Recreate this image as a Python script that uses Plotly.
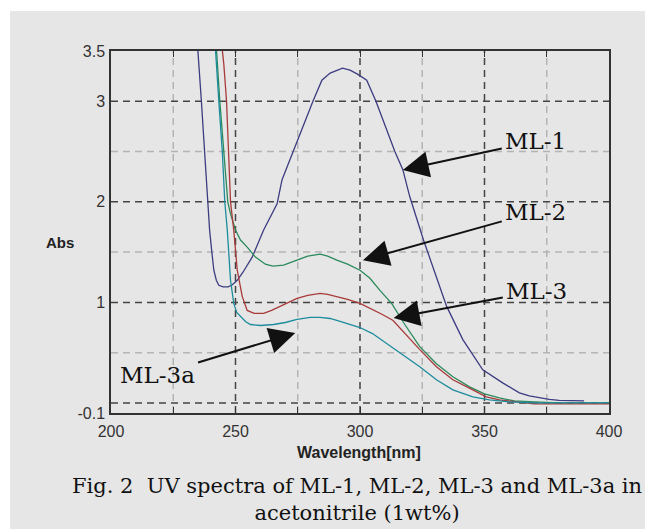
import plotly.graph_objects as go

# ---------------- data ----------------
ml1_x = [234.2, 234.9, 236.3, 237.6, 238.9, 239.6, 240.5, 241.3, 242.3, 243.3, 245.0, 247.0, 248.5,
         250.7, 253.0, 256.7, 261.3, 266.7, 268.7, 273.1, 281.1, 284.7, 288.0, 293.0, 296.0, 299.0,
         302.7, 306.4, 314.0, 317.2, 320.0, 325.5, 334.8, 341.3, 349.3, 357.3, 364.0, 368.0, 372.0,
         376.0, 380.0, 390.0]
ml1_y = [3.6, 3.5, 3.0, 2.5, 2.0, 1.72, 1.5, 1.32, 1.22, 1.17, 1.155, 1.155, 1.17,
         1.22, 1.30, 1.45, 1.72, 1.98, 2.22, 2.5, 3.0, 3.21, 3.28, 3.33, 3.31, 3.27,
         3.21, 3.0, 2.5, 2.32, 2.05, 1.62, 0.96, 0.63, 0.33, 0.20, 0.10, 0.07, 0.05,
         0.035, 0.025, 0.02]

ml2_x = [241.8, 242.4, 243.7, 245.3, 246.9, 248.0, 250.0, 252.0, 254.7, 258.0, 262.0, 265.0, 269.3,
         274.7, 279.0, 284.0, 287.0, 290.7, 295.0, 300.0, 304.0, 308.0, 312.7, 318.0, 324.0, 330.7,
         337.3, 344.0, 350.0, 356.0, 362.0, 370.0, 380.0, 400.0]
ml2_y = [3.6, 3.5, 3.0, 2.5, 2.0, 1.88, 1.72, 1.62, 1.55, 1.45, 1.38, 1.36, 1.37,
         1.42, 1.46, 1.48, 1.46, 1.42, 1.38, 1.32, 1.24, 1.12, 0.99, 0.78, 0.56, 0.39,
         0.26, 0.16, 0.09, 0.05, 0.02, 0.01, 0.0, 0.0]

ml3_x = [244.3, 244.7, 245.3, 246.4, 247.2, 248.0, 249.3, 250.7, 252.7, 254.7, 257.5, 261.3, 264.5,
         268.0, 274.7, 279.0, 284.0, 287.0, 290.7, 295.0, 300.0, 305.0, 309.0, 313.3, 318.0, 324.0,
         330.7, 337.3, 345.3, 350.7, 356.0, 362.0, 370.0, 400.0]
ml3_y = [3.6, 3.5, 3.37, 3.0, 2.5, 2.0, 1.72, 1.32, 1.06, 0.92, 0.89, 0.89, 0.92,
         0.96, 1.04, 1.07, 1.09, 1.08, 1.06, 1.03, 0.99, 0.93, 0.88, 0.82, 0.69, 0.53,
         0.36, 0.23, 0.13, 0.06, 0.03, 0.01, -0.01, -0.01]

ml3a_x = [241.3, 242.0, 243.3, 244.7, 245.7, 246.7, 248.0, 249.3, 250.5, 252.0, 254.0, 256.0, 260.0,
          265.3, 270.0, 274.7, 280.0, 284.0, 288.0, 292.0, 296.0, 300.0, 305.0, 310.7, 314.7, 319.0,
          324.0, 330.7, 337.3, 345.3, 352.0, 360.0, 370.0, 400.0]
ml3a_y = [3.6, 3.5, 3.0, 2.5, 2.0, 1.72, 1.22, 0.99, 0.90, 0.86, 0.81, 0.78, 0.77,
          0.78, 0.80, 0.83, 0.85, 0.85, 0.84, 0.81, 0.78, 0.75, 0.69, 0.59, 0.52, 0.45,
          0.36, 0.23, 0.13, 0.06, 0.03, 0.01, 0.0, 0.0]

x_tick_vals = [200, 250, 300, 350, 400]
x_tick_text = ["200", "250", "300", "350", "400"]
y_tick_vals = [-0.1, 1, 2, 3, 3.5]
y_tick_text = ["-0.1", "1", "2", "3", "3.5"]
major_x_grid = [250, 300, 350]
minor_x_grid = [225, 275, 325, 375]
major_y_grid = [0, 1, 2, 3]
minor_y_grid = [0.5, 1.5, 2.5]

# label: (text, arrow head x, head y, text x, text y)
labels = [
    ("ML-1", 317.2, 2.317, 370.6, 2.605),
    ("ML-2", 301.2, 1.42, 370.6, 1.90),
    ("ML-3", 313.5, 0.845, 371.0, 1.113),
    ("ML-3a", 274.0, 0.696, 218.5, 0.278),
]

caption = "Fig. 2  UV spectra of ML-1, ML-2, ML-3 and ML-3a in<br>acetonitrile (1wt%)"

# ---------------- figure ----------------
BG = "#e6e6e6"
fig = go.Figure()
series = [
    (ml1_x, ml1_y, "#3c3c82", "ML-1"),
    (ml2_x, ml2_y, "#2b8a5c", "ML-2"),
    (ml3_x, ml3_y, "#a83a3a", "ML-3"),
    (ml3a_x, ml3a_y, "#1c8c9c", "ML-3a"),
]
for xs, ys, col, nm in series:
    fig.add_trace(go.Scatter(x=xs, y=ys, mode="lines", name=nm,
                             line=dict(color=col, width=1.3), showlegend=False))

L, R, T, B = 111, 36, 51, 116
W, H = 645, 529
pw, ph = W - L - R, H - T - B


def px_to_paper_x(px):
    return (px - L) / pw


def px_to_paper_y(py):
    return (H - B - py) / ph


shapes = []
# gray background with white strip at top/left
shapes.append(dict(type="rect", xref="paper", yref="paper",
                   x0=px_to_paper_x(10), x1=px_to_paper_x(W + 5),
                   y0=px_to_paper_y(H + 5), y1=px_to_paper_y(11),
                   fillcolor=BG, line=dict(width=0), layer="below"))
for v in minor_x_grid:
    shapes.append(dict(type="line", xref="x", yref="paper", x0=v, x1=v, y0=0, y1=1,
                       line=dict(color="#b4b4b4", width=1.5, dash="7px,5px"), layer="below"))
for v in minor_y_grid:
    shapes.append(dict(type="line", xref="paper", yref="y", x0=0, x1=1, y0=v, y1=v,
                       line=dict(color="#b4b4b4", width=1.5, dash="7px,5px"), layer="below"))
for v in major_x_grid:
    shapes.append(dict(type="line", xref="x", yref="paper", x0=v, x1=v, y0=0, y1=1,
                       line=dict(color="#444444", width=1.5, dash="7px,5px"), layer="below"))
for v in major_y_grid:
    shapes.append(dict(type="line", xref="paper", yref="y", x0=0, x1=1, y0=v, y1=v,
                       line=dict(color="#444444", width=1.5, dash="7px,5px"), layer="below"))

annotations = []
for txt, hx, hy, tx, ty in labels:
    annotations.append(dict(x=hx, y=hy, xref="x", yref="y", ax=tx, ay=ty, axref="x", ayref="y",
                            text=txt, showarrow=True, arrowhead=2, arrowsize=2.6, arrowwidth=2,
                            arrowcolor="#111111", borderpad=3,
                            font=dict(family="DejaVu Serif", size=23, color="#111111")))
annotations.append(dict(x=px_to_paper_x(60), y=px_to_paper_y(242), xref="paper", yref="paper",
                        xanchor="center", yanchor="middle",
                        text="<b>Abs</b>", showarrow=False,
                        font=dict(family="Liberation Sans", size=15, color="#222222")))
annotations.append(dict(x=px_to_paper_x(359), y=px_to_paper_y(452), xref="paper", yref="paper",
                        xanchor="center", yanchor="middle",
                        text="<b>Wavelength[nm]</b>", showarrow=False,
                        font=dict(family="Liberation Sans", size=16, color="#222222")))
annotations.append(dict(x=px_to_paper_x(357), y=px_to_paper_y(499), xref="paper", yref="paper",
                        xanchor="center", yanchor="middle",
                        text=caption, showarrow=False, align="center",
                        font=dict(family="DejaVu Serif", size=21, color="#111111")))

tickfont = dict(family="Liberation Sans", size=16, color="#333333")
fig.update_layout(
    width=W, height=H,
    margin=dict(l=L, r=R, t=T, b=B),
    paper_bgcolor="white",
    plot_bgcolor="rgba(0,0,0,0)",
    shapes=shapes,
    annotations=annotations,
    xaxis=dict(range=[200, 400], tickvals=x_tick_vals, ticktext=x_tick_text,
               showgrid=False, zeroline=False, showline=True, linecolor="#333333", linewidth=1.5,
               mirror="ticks", ticks="inside", ticklen=6, tickcolor="#333333", tickwidth=1.3,
               minor=dict(tickvals=minor_x_grid, ticks="inside", ticklen=6, tickcolor="#333333",
                          showgrid=False),
               tickfont=tickfont, ticklabelstandoff=3),
    yaxis=dict(range=[-0.1, 3.5], tickvals=y_tick_vals, ticktext=y_tick_text,
               showgrid=False, zeroline=False, showline=True, linecolor="#333333", linewidth=1.5,
               mirror=True, ticks="", tickfont=tickfont, ticklabelstandoff=1),
)

fig.write_html("out.html", config={"displayModeBar": False},
               post_script="document.body.style.margin='0px';")
